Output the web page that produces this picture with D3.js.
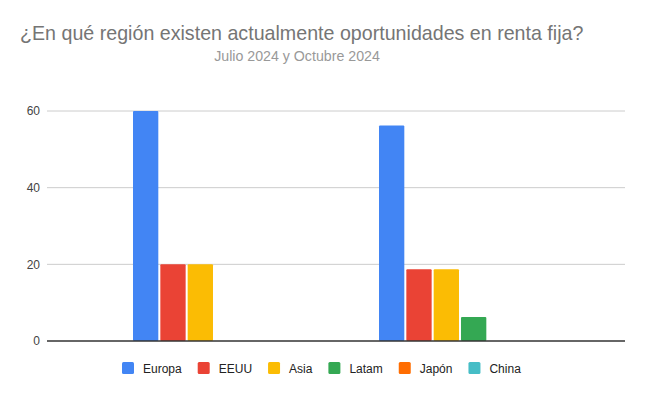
<!DOCTYPE html>
<html><head><meta charset="utf-8">
<script src="https://cdn.jsdelivr.net/npm/d3@7"></script>
<style>body{margin:0;background:#fff;font-family:Arial,"Liberation Sans",sans-serif}</style>
</head><body><svg id="c" width="645" height="395"></svg>
<script>
const groups = ["Julio 2024", "Octubre 2024"];
const series = ["Europa", "EEUU", "Asia", "Latam", "Japón", "China"];
const colors = ["#4285F4", "#EA4335", "#FBBC04", "#34A853", "#FF6D01", "#46BDC6"];
const julio = [60, 20, 20, 0, 0, 0];
const octubre = [56.25, 18.75, 18.75, 6.25, 0, 0];
const yTicks = [0, 20, 40, 60];
const titleText = "¿En qué región existen actualmente oportunidades en renta fija?";
const subtitleText = "Julio 2024 y Octubre 2024";

const values = [julio, octubre];
const svg = d3.select("#c");
svg.append("rect").attr("width",645).attr("height",395).attr("fill","#fff");

const plotL = 47, plotR = 625, plotT = 111, plotB = 341;
const y = d3.scaleLinear().domain([0,60]).range([plotB, plotT]);
const x0 = d3.scaleBand().domain(groups).range([91, 583]);
const groupW = 162;
const x1 = d3.scaleBand().domain(series).range([0, groupW]).paddingInner(0.074);

svg.append("g").selectAll("line").data(yTicks.filter(d=>d>0)).join("line")
  .attr("x1",plotL).attr("x2",plotR).attr("y1",d=>y(d)).attr("y2",d=>y(d))
  .attr("stroke","#cccccc").attr("stroke-width",1);

const yAxis = d3.axisLeft(y).tickValues(yTicks).tickSize(0).tickPadding(7);
const ga = svg.append("g").attr("transform",`translate(${plotL},0)`).call(yAxis);
ga.select(".domain").remove();
ga.selectAll("text").attr("font-family","Arial, 'Liberation Sans', sans-serif").attr("font-size",12).attr("fill","#444");

groups.forEach((g,gi)=>{
  const off = x0(g) + (x0.bandwidth()-groupW)/2;
  svg.append("g").attr("transform",`translate(${off},0)`)
    .selectAll("rect").data(series.map((s,i)=>({s,v:values[gi][i],c:colors[i]})).filter(d=>d.v>0)).join("rect")
    .attr("x",d=>x1(d.s)).attr("width",x1.bandwidth())
    .attr("y",d=>y(d.v)).attr("height",d=>y(0)-y(d.v))
    .attr("fill",d=>d.c).attr("rx",1);
});

svg.append("line").attr("x1",plotL).attr("x2",plotR).attr("y1",y(0)).attr("y2",y(0))
  .attr("stroke","#333").attr("stroke-width",1.3);

svg.append("text").attr("x",20).attr("y",40).text(titleText)
  .attr("font-size",19.65).attr("fill","#757575").attr("font-family","Arial, 'Liberation Sans', sans-serif");
svg.append("text").attr("x",297).attr("y",61).attr("text-anchor","middle").text(subtitleText)
  .attr("font-size",14.2).attr("fill","#999").attr("font-family","Arial, 'Liberation Sans', sans-serif");

const lg = svg.append("g");
const items = lg.selectAll("g").data(series).join("g");
items.append("rect").attr("width",12).attr("height",12).attr("rx",1.5).attr("fill",(d,i)=>colors[i]).attr("y",-6);
items.append("text").attr("x",21).attr("y",4.5).text(d=>d)
  .attr("font-size",12).attr("fill","#222").attr("font-family","Arial, 'Liberation Sans', sans-serif");
let cx = 0;
const pos = [];
items.each(function(){ const w = this.querySelector("text").getComputedTextLength(); pos.push(cx); cx += 21 + w + 16; });
const startX = 122;
items.attr("transform",(d,i)=>`translate(${startX+pos[i]},368)`);
</script></body></html>
